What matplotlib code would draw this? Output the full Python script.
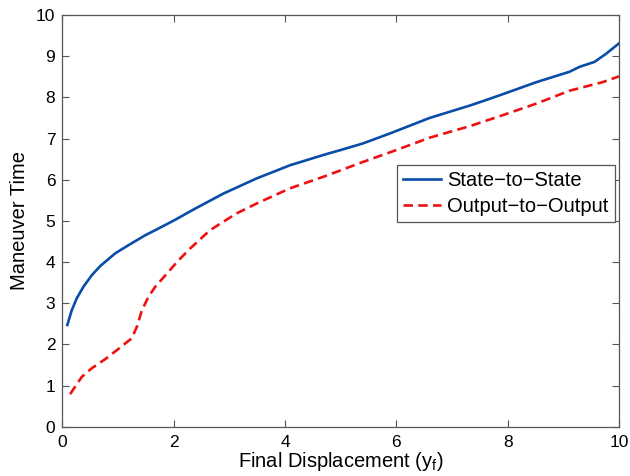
import numpy as np
import matplotlib.pyplot as plt

# maneuver time vs final displacement, two planning approaches
x_state = [0.09, 0.17, 0.26, 0.38, 0.53, 0.68, 0.95, 1.19, 1.49, 1.78, 2.02,
           2.35, 2.89, 3.49, 4.09, 4.69, 5.0, 5.40, 5.88, 6.6, 7.32, 7.56,
           7.92, 8.52, 9.11, 9.29, 9.56, 9.77, 10.0]
t_state = [2.47, 2.83, 3.12, 3.40, 3.68, 3.90, 4.21, 4.41, 4.65, 4.85, 5.02,
           5.27, 5.66, 6.03, 6.35, 6.60, 6.72, 6.88, 7.12, 7.50, 7.80, 7.91,
           8.08, 8.37, 8.62, 8.74, 8.86, 9.06, 9.31]

x_output = [0.14, 0.35, 0.53, 0.77, 0.98, 1.25, 1.34, 1.43, 1.55, 1.67, 1.88,
            2.06, 2.29, 2.65, 3.13, 3.49, 4.09, 4.69, 5.40, 6.0, 6.6, 7.32,
            7.92, 8.52, 9.11, 9.71, 10.0]
t_output = [0.79, 1.21, 1.42, 1.64, 1.86, 2.15, 2.43, 2.83, 3.16, 3.40, 3.72,
            4.0, 4.32, 4.77, 5.18, 5.42, 5.79, 6.07, 6.43, 6.72, 7.02, 7.30,
            7.57, 7.85, 8.16, 8.37, 8.51]

plt.rcParams['font.family'] = ['Liberation Sans', 'DejaVu Sans']
plt.rcParams['mathtext.fontset'] = 'custom'
plt.rcParams['mathtext.rm'] = 'Liberation Sans'

fig = plt.figure(figsize=(6.3, 4.76), dpi=100)
ax = fig.add_axes([0.0989, 0.1036, 0.8836, 0.8649])

ax.plot(x_state, t_state, color='#0A4DA8', lw=1.9, label='State\u2212to\u2212State')
ax.plot(x_output, t_output, color='#EE1111', lw=1.9, dashes=(3.6, 2.0),
        label='Output\u2212to\u2212Output')

ax.set_xlim(0, 10)
ax.set_ylim(0, 10)
ax.set_xticks(np.arange(0, 11, 2))
ax.set_yticks(np.arange(0, 11, 1))
ax.tick_params(direction='in', top=True, right=True, length=5, width=0.8,
               color='#555555', labelsize=12.5)
ax.tick_params(axis='x', pad=6)
ax.tick_params(axis='y', pad=5)
for s in ax.spines.values():
    s.set_color('#555555')
    s.set_linewidth(0.9)

ax.set_xlabel('Final Displacement (y$_\\mathrm{f}$)', fontsize=14.5, labelpad=0)
ax.set_ylabel('Maneuver Time', fontsize=14.5, labelpad=5)

leg = ax.legend(loc='upper left', bbox_to_anchor=(0.601, 0.635), fontsize=14.5,
                borderaxespad=0, fancybox=False, framealpha=1, handlelength=1.9,
                handletextpad=0.3, borderpad=0.3, labelspacing=0.35)
leg.get_frame().set_edgecolor('#555555')
leg.get_frame().set_linewidth(0.9)

fig.savefig('out.png', dpi=100)
